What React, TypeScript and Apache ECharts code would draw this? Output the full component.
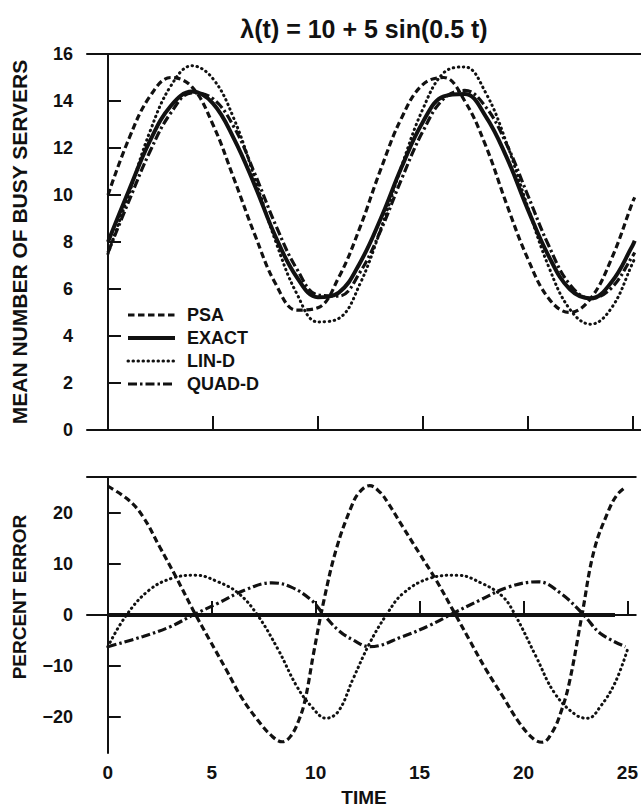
import React, { useEffect, useRef } from "react";
import * as echarts from "echarts";

// ---- Top panel: mean number of busy servers ----
const T_TOP = [0, 1, 2, 3, 4, 5, 6, 7, 8, 9, 10, 11, 12, 13, 14, 15, 16, 17, 18, 19, 20, 21, 22, 23, 24, 25, 25.1];
const PSA_TOP = [10.0, 12.4, 14.2, 15.0, 14.6, 13.0, 10.7, 8.3, 6.2, 5.1, 5.2, 6.5, 8.6, 11.1, 13.3, 14.7, 15.0, 14.0, 12.1, 9.6, 7.3, 5.6, 5.0, 5.6, 7.3, 9.7, 9.9];
const EXACT_TOP = [8.0, 10.2, 12.3, 13.8, 14.4, 13.9, 12.4, 10.4, 8.2, 6.5, 5.65, 5.85, 7.1, 9.0, 11.2, 13.1, 14.2, 14.3, 13.35, 11.6, 9.4, 7.4, 6.0, 5.6, 6.3, 7.85, 8.05];
const LIN_TOP = [7.5, 10.05, 12.7, 14.65, 15.5, 14.95, 13.25, 10.7, 8.0, 5.8, 4.6, 4.75, 6.2, 8.55, 11.25, 13.65, 15.2, 15.45, 14.35, 12.2, 9.5, 6.95, 5.15, 4.5, 5.2, 7.1, 7.3];
const QUAD_TOP = [7.55, 9.75, 11.85, 13.5, 14.35, 14.1, 12.9, 10.9, 8.7, 6.85, 5.75, 5.7, 6.7, 8.5, 10.7, 12.7, 14.1, 14.45, 13.75, 12.15, 10.0, 7.85, 6.2, 5.6, 6.05, 7.4, 7.55];

// ---- Bottom panel: percent error ----
const T_PSA_ERR = [0, 1, 1.7, 2.5, 3.3, 4.1, 4.9, 5.7, 6.4, 7.2, 7.9, 8.4, 8.8, 9.2, 9.5, 9.9, 10.4, 11.0, 11.7, 12.1, 12.6, 13.1, 13.5, 14.2, 15.0, 15.8, 16.6, 17.4, 18.2, 19.0, 19.8, 20.5, 20.9, 21.4, 21.8, 22.2, 22.8, 23.4, 24.1, 24.5, 24.9];
const PSA_ERR = [25.2, 22.5, 19.2, 13.3, 7.3, 1.0, -4.9, -10.7, -15.9, -20.5, -23.7, -24.8, -23.7, -20.5, -16.5, -7.5, 2.9, 13.0, 21.0, 24.0, 25.3, 24.0, 21.8, 17.2, 12.0, 6.8, 1.0, -4.9, -10.7, -15.9, -21.1, -24.3, -24.9, -22.8, -19.0, -13.3, -0.3, 12.7, 20.5, 23.5, 25.0];
const T_EXACT_ERR = [0, 24.4];
const EXACT_ERR = [0, 0];
const T_LIN_ERR = [0, 0.9, 2.0, 3.1, 4.2, 5.3, 6.3, 7.2, 8.2, 9.1, 9.8, 10.5, 11.1, 11.8, 12.6, 13.4, 14.2, 15.5, 16.8, 18.0, 19.0, 19.6, 20.6, 21.5, 22.5, 23.1, 23.7, 24.4, 25.0];
const LIN_ERR = [-6.2, 0, 4.9, 7.2, 7.8, 6.5, 4.2, 0, -6.8, -14.0, -17.9, -20.2, -18.8, -12.5, -5.5, 0, 4.2, 7.2, 7.8, 6.2, 3.6, 0, -8.1, -15.3, -19.5, -20.2, -17.9, -13.3, -6.8];
const T_QUAD_ERR = [0, 1.7, 3.0, 4.1, 5.3, 6.6, 7.9, 8.8, 9.8, 10.4, 11.1, 11.8, 12.6, 14.2, 15.5, 16.6, 17.9, 19.3, 20.7, 21.8, 22.9, 23.7, 24.9];
const QUAD_ERR = [-6.2, -4.2, -2.3, 0, 2.3, 4.9, 6.3, 5.5, 2.9, 0, -3.0, -4.9, -6.2, -4.2, -2.0, 0.3, 2.9, 5.5, 6.5, 4.2, 0, -3.6, -6.2];

const X_TICKS = [0, 5, 10, 15, 20, 25];
const Y_ERR_TICKS = [-20, -10, 0, 10, 20];
const SERIES_NAMES = ["PSA", "EXACT", "LIN-D", "QUAD-D"];

const FONT = "'Liberation Sans', Arial, Helvetica, sans-serif";
const INK = "#111";

const zip = (xs: number[], ys: number[]) => xs.map((x, i) => [x, ys[i]]);

const STYLES: Record<string, any> = {
  PSA: { color: INK, width: 3.2, type: [6.5, 3.5] },
  EXACT: { color: INK, width: 4, type: "solid" },
  "LIN-D": { color: INK, width: 3, type: [0.5, 4.5], cap: "round" },
  "QUAD-D": { color: INK, width: 3.2, type: [9, 3, 2.5, 3] },
};

export default function App() {
  const ref = useRef<HTMLDivElement>(null);
  useEffect(() => {
    if (!ref.current) return;
    const chart = echarts.init(ref.current, undefined, { renderer: "svg" });

    const xBase = (gridIndex: number, showLabels: boolean) => ({
      type: "value",
      gridIndex,
      min: -1,
      max: 25.4,
      position: "bottom",
      axisLine: { show: true, lineStyle: { color: INK, width: 2 } },
      axisTick: {
        show: true,
        inside: true,
        length: 14,
        customValues: X_TICKS,
        lineStyle: { color: INK, width: 2 },
      },
      axisLabel: {
        show: showLabels,
        customValues: X_TICKS,
        margin: 10,
        color: INK,
        fontSize: 19,
        fontWeight: "bold",
        fontFamily: FONT,
      },
      splitLine: { show: false },
    });
    const xTopBorder = (gridIndex: number) => ({
      type: "value",
      gridIndex,
      min: -1,
      max: 25.4,
      position: "top",
      axisLine: { show: true, lineStyle: { color: INK, width: 2 } },
      axisTick: { show: false },
      axisLabel: { show: false },
      splitLine: { show: false },
    });

    const topData: Record<string, number[]> = {
      PSA: PSA_TOP,
      EXACT: EXACT_TOP,
      "LIN-D": LIN_TOP,
      "QUAD-D": QUAD_TOP,
    };
    const errData: Record<string, [number[], number[]]> = {
      PSA: [T_PSA_ERR, PSA_ERR],
      EXACT: [T_EXACT_ERR, EXACT_ERR],
      "LIN-D": [T_LIN_ERR, LIN_ERR],
      "QUAD-D": [T_QUAD_ERR, QUAD_ERR],
    };

    const order = ["PSA", "EXACT", "LIN-D", "QUAD-D"];
    const series: any[] = [];
    order.forEach((n) => {
      series.push({
        name: n,
        type: "line",
        xAxisIndex: 0,
        yAxisIndex: 0,
        data: zip(T_TOP, topData[n]),
        smooth: 0.4,
        symbol: "none",
        lineStyle: STYLES[n],
        itemStyle: { color: INK },
        z: n === "EXACT" ? 3 : 2,
      });
    });
    order.forEach((n) => {
      series.push({
        name: n,
        type: "line",
        xAxisIndex: 2,
        yAxisIndex: 1,
        data: zip(errData[n][0], errData[n][1]),
        smooth: 0.4,
        symbol: "none",
        lineStyle: STYLES[n],
        itemStyle: { color: INK },
      });
    });

    const yLabel = {
      color: INK,
      fontSize: 18,
      fontWeight: "bold",
      fontFamily: FONT,
      margin: 14,
      formatter: (v: number) => String(v).replace("-", "\u2212"),
    };

    chart.setOption({
      animation: false,
      backgroundColor: "#fff",
      grid: [
        { left: 87, top: 54, width: 554, height: 376 },
        { left: 87, top: 477, width: 554, height: 276 },
      ],
      xAxis: [xBase(0, false), xTopBorder(0), xBase(1, true), xTopBorder(1)],
      yAxis: [
        {
          type: "value",
          gridIndex: 0,
          min: 0,
          max: 16,
          interval: 2,
          axisLine: { show: true, lineStyle: { color: INK, width: 2 } },
          axisTick: { show: true, inside: true, length: 13, lineStyle: { color: INK, width: 2 } },
          axisLabel: yLabel,
          splitLine: { show: false },
        },
        {
          type: "value",
          gridIndex: 1,
          min: -27,
          max: 27,
          axisLine: { show: true, lineStyle: { color: INK, width: 2 } },
          axisTick: {
            show: true,
            inside: true,
            length: 13,
            customValues: Y_ERR_TICKS,
            lineStyle: { color: INK, width: 2 },
          },
          axisLabel: { ...yLabel, customValues: Y_ERR_TICKS },
          splitLine: { show: false },
        },
      ],
      legend: {
        data: SERIES_NAMES,
        orient: "vertical",
        left: 126,
        top: 306,
        itemWidth: 47,
        itemHeight: 18,
        itemGap: 5,
        padding: 0,
        itemStyle: { opacity: 0, color: "rgba(0,0,0,0)", borderWidth: 0 },
        lineStyle: { width: "inherit", type: "inherit", color: "inherit" },
        textStyle: {
          color: INK,
          fontSize: 18,
          fontWeight: "bold",
          lineHeight: 18,
          fontFamily: FONT,
          padding: [0, 0, 0, 7],
        },
        selectedMode: false,
      },
      graphic: [
        {
          type: "text",
          x: 364,
          y: 29,
          style: {
            text: "\u03bb(t) = 10 + 5 sin(0.5 t)",
            fill: INK,
            font: `bold 25px ${FONT}`,
            textAlign: "center",
            textVerticalAlign: "middle",
          },
        },
        {
          type: "text",
          x: 19,
          y: 242,
          rotation: Math.PI / 2,
          style: {
            text: "MEAN NUMBER OF BUSY SERVERS",
            fill: INK,
            font: `bold 21px ${FONT}`,
            textAlign: "center",
            textVerticalAlign: "middle",
          },
        },
        {
          type: "text",
          x: 19,
          y: 597,
          rotation: Math.PI / 2,
          style: {
            text: "PERCENT ERROR",
            fill: INK,
            font: `bold 19px ${FONT}`,
            textAlign: "center",
            textVerticalAlign: "middle",
          },
        },
        {
          type: "text",
          x: 364,
          y: 797,
          style: {
            text: "TIME",
            fill: INK,
            font: `bold 19px ${FONT}`,
            textAlign: "center",
            textVerticalAlign: "middle",
          },
        },
      ],
      series,
    });
    return () => chart.dispose();
  }, []);

  return (
    <div
      ref={ref}
      style={{ position: "absolute", left: 0, top: 0, width: 641, height: 807, background: "#fff" }}
    />
  );
}
